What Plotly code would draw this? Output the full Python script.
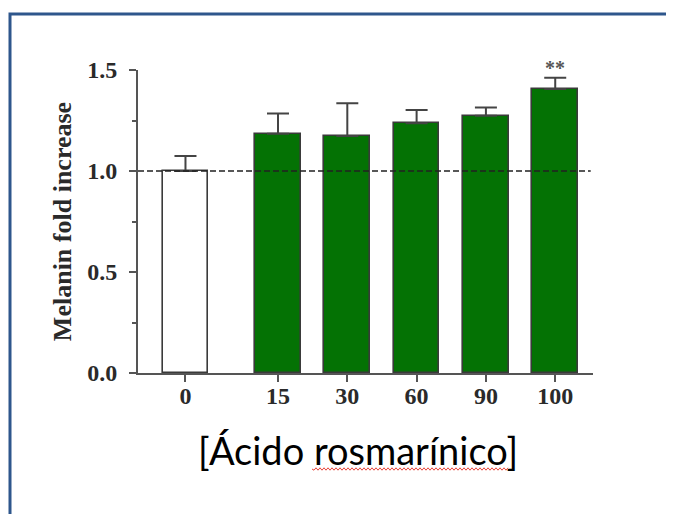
import plotly.graph_objects as go

doses = ["0", "15", "30", "60", "90", "100"]
melanin = [1.00, 1.185, 1.173, 1.236, 1.274, 1.406]
sem = [0.074, 0.10, 0.162, 0.066, 0.040, 0.056]
significance = ["", "", "", "", "", "**"]

# layout: control group separated by an extra gap
gap = 0.335
x_pos = [i + (gap if i > 0 else 0) for i in range(len(doses))]
fills = ["#ffffff"] + ["#047204"] * (len(doses) - 1)

OFF = 8  # page body margin
W, H = 674 - OFF, 514 - OFF
L, R, T, B = 138 - OFF, 81, 70 - OFF, 141
pw, ph = W - L - R, H - T - B

def px(x):
    return (x - OFF - L) / pw

def py(y):
    return (H - B - (y - OFF)) / ph

fig = go.Figure()
fig.add_trace(go.Bar(
    x=x_pos, y=melanin, width=0.66,
    marker=dict(color=fills, line=dict(color="#3a3a3a", width=1.6)),
    error_y=dict(type="data", symmetric=False, array=sem,
                 arrayminus=[0] * len(sem), color="#444444",
                 thickness=2, width=11),
    showlegend=False,
))

for xp, v, e, s in zip(x_pos, melanin, sem, significance):
    if s:
        fig.add_annotation(x=xp, y=v + e, text="<b>" + s + "</b>",
                           showarrow=False, yanchor="bottom", yshift=-3,
                           font=dict(family="Liberation Serif", size=20,
                                     color="#555555"))

# dashed reference line at 1.0
fig.add_shape(type="line", xref="paper", yref="y", x0=0, x1=0.995,
              y0=1.0, y1=1.0, layer="above",
              line=dict(color="#222222", width=1.5, dash="6px,3px"))

# outer frame
fig.add_shape(type="rect", xref="paper", yref="paper",
              x0=px(10), x1=px(700), y0=py(540), y1=py(14),
              line=dict(color="#2e568c", width=3), layer="below")

# x title
fig.add_annotation(xref="paper", yref="paper", x=px(358), y=py(450),
                   text="[Ácido rosmarínico]", showarrow=False,
                   xanchor="center", yanchor="middle",
                   font=dict(family="Lato", size=38, color="#000000"))

# spell-check squiggle under "rosmarínico"
x0s, x1s, ys = 312, 508, 469
path = f"M{px(x0s)},{py(ys)}"
n = int((x1s - x0s) / 2)
for k in range(1, n + 1):
    xx = x0s + 2 * k
    yy = ys + (1.2 if k % 2 else -1.2)
    path += f" L{px(xx)},{py(yy)}"
fig.add_shape(type="path", xref="paper", yref="paper", path=path,
              line=dict(color="#e8453c", width=1))

fig.update_layout(
    width=W, height=H,
    margin=dict(l=L, r=R, t=T, b=B, autoexpand=False),
    paper_bgcolor="#ffffff", plot_bgcolor="#ffffff",
    bargap=0,
    xaxis=dict(range=[-0.685, 5.88], tickvals=x_pos, ticktext=doses,
               showgrid=False, zeroline=False, showline=True,
               linecolor="#555555", linewidth=2,
               ticks="outside", ticklen=7, tickwidth=2, tickcolor="#555555",
               ticklabelstandoff=-7,
               tickfont=dict(family="Liberation Serif", size=24,
                             color="#2a2a2a")),
    yaxis=dict(range=[0, 1.5], tickvals=[0, 0.5, 1.0, 1.5],
               tickformat=".1f", showgrid=False, zeroline=False,
               showline=True, linecolor="#555555", linewidth=2,
               ticks="outside", ticklen=7, tickwidth=2, tickcolor="#555555",
               ticklabelstandoff=7,
               minor=dict(tickvals=[0.25, 0.75, 1.25], ticks="outside",
                          ticklen=4, tickwidth=2, tickcolor="#555555"),
               tickfont=dict(family="Liberation Serif", size=24,
                             color="#2a2a2a"),
               title=dict(text="<b>Melanin fold increase</b>", standoff=8,
                          font=dict(family="Liberation Serif", size=26,
                                    color="#2a2a2a"))),
    font=dict(family="Liberation Serif"),
)
fig.update_xaxes(tickfont_weight="bold")
fig.update_yaxes(tickfont_weight="bold")

fig.write_html("out.html")
